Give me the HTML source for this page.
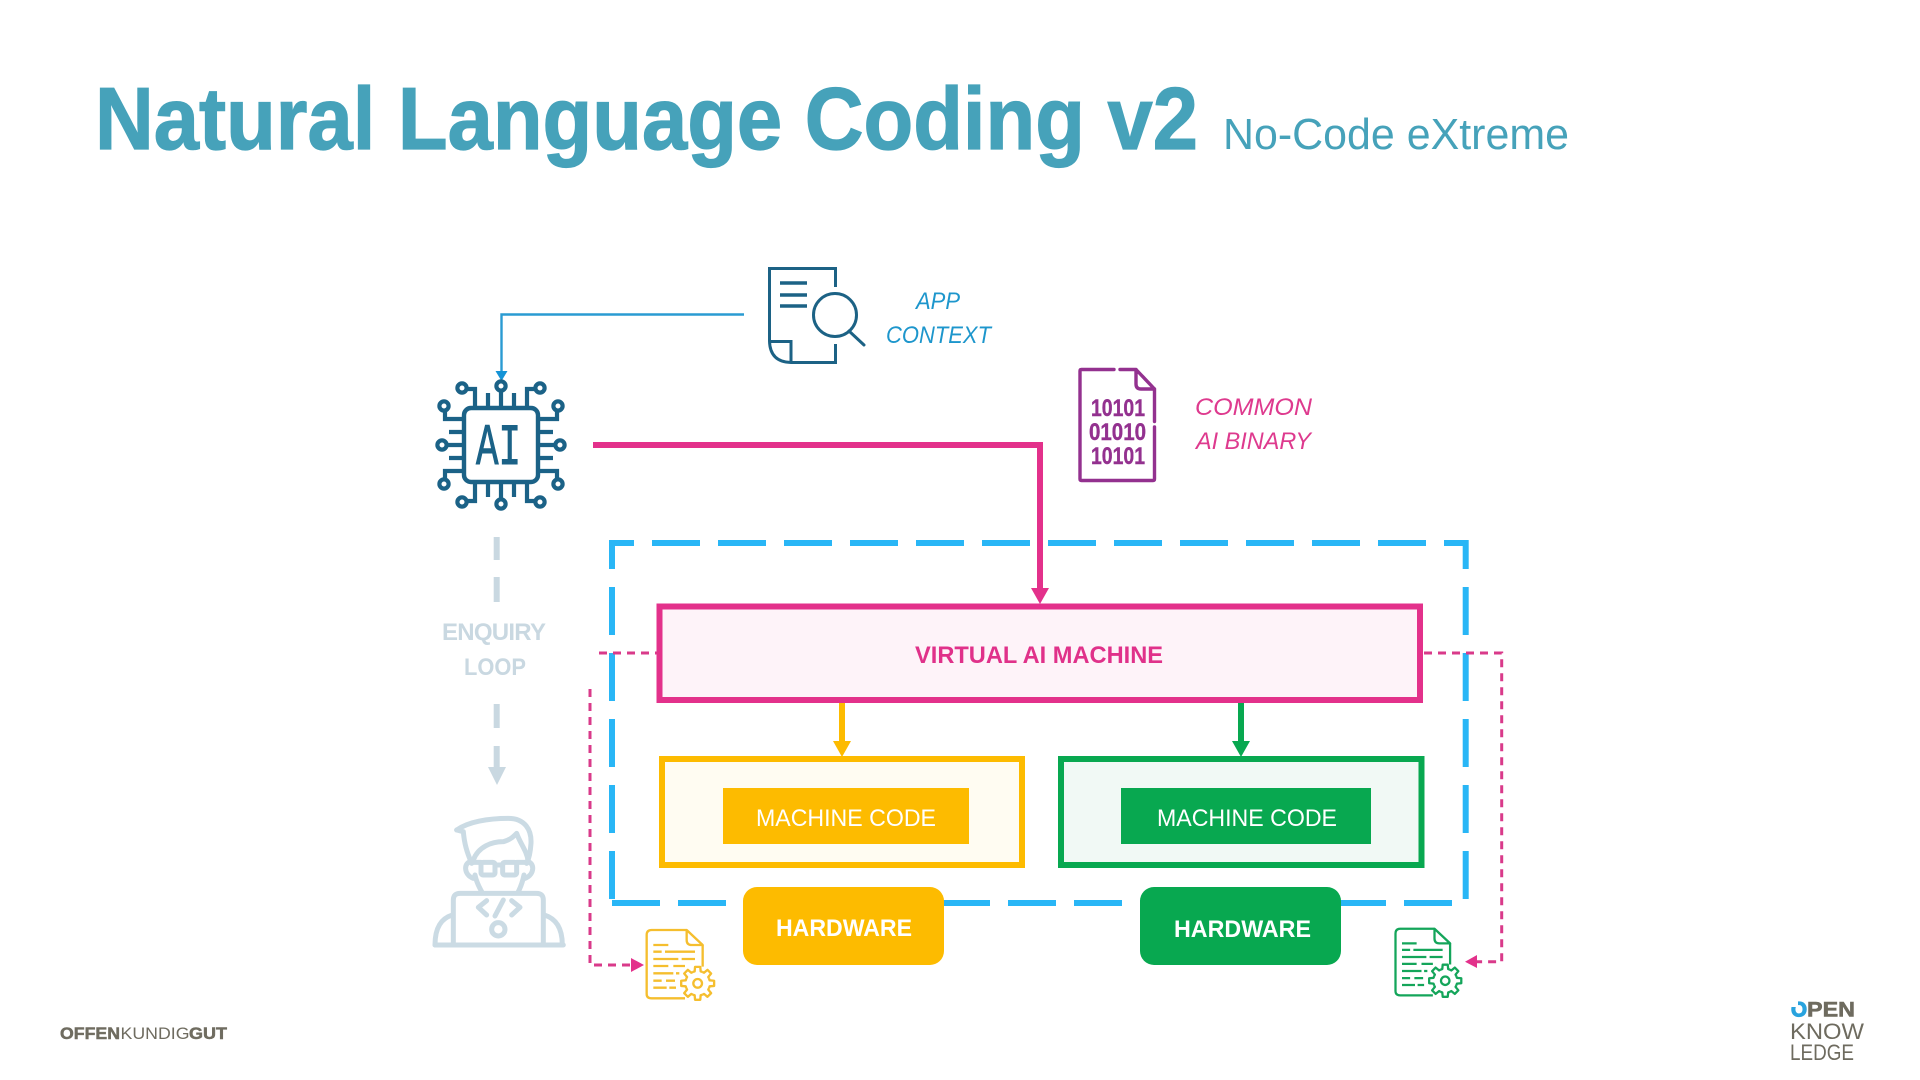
<!DOCTYPE html>
<html><head><meta charset="utf-8"><title>Natural Language Coding v2</title>
<style>html,body{margin:0;padding:0;background:#fff}svg{display:block}text{font-family:"Liberation Sans",sans-serif}</style></head>
<body>
<svg width="1920" height="1080" viewBox="0 0 1920 1080" xmlns="http://www.w3.org/2000/svg">
<defs>
<g id="pins" fill="none">
  <path d="M-13-37V-52M13-37V-52M0-37V-55M-26-37V-56H-35M26-37V-56H35"/>
  <circle cx="0" cy="-59" r="4.6"/><circle cx="-39" cy="-57" r="4.6"/><circle cx="39" cy="-57" r="4.6"/>
</g>
<g id="tooth"><polyline points="-14.2,-34.2 -9,-35.9 -7.8,-49.4 7.8,-49.4 9,-35.9 14.2,-34.2" fill="none"/></g>
<g id="doc" fill="none" stroke-width="7" stroke-linejoin="round">
  <path d="M140,30H35Q20,30 20,45V222Q20,235 35,235H135M188,75V140"/>
  <path d="M140,30L188,75H155Q140,75 140,60Z"/>
  <path d="M40,75H85M40,95H65M75,95H165M40,117H115M125,117H165M40,138H85M100,138H135M40,160H100M108,160H118M40,182H65M78,182H105M40,203H80M88,203H108"/>
  <g transform="translate(173,190)">
    <circle r="36" fill="#fff" stroke="none"/>
    <use href="#tooth"/><use href="#tooth" transform="rotate(45)"/><use href="#tooth" transform="rotate(90)"/><use href="#tooth" transform="rotate(135)"/><use href="#tooth" transform="rotate(180)"/><use href="#tooth" transform="rotate(225)"/><use href="#tooth" transform="rotate(270)"/><use href="#tooth" transform="rotate(315)"/>
    <circle r="13"/>
  </g>
</g>
</defs>

<!-- Title -->
<text x="95" y="149" font-size="88" font-weight="700" fill="#46a2ba" stroke="#46a2ba" stroke-width="1.2" textLength="1103" lengthAdjust="spacingAndGlyphs">Natural Language Coding v2</text>
<text x="1223" y="149" font-size="44" fill="#46a2ba" textLength="346" lengthAdjust="spacingAndGlyphs">No-Code eXtreme</text>

<!-- Context connector -->
<path d="M744,314.5H501.5V372" fill="none" stroke="#2a9bd2" stroke-width="2.4"/>
<polygon points="495.5,371 507.5,371 501.5,381" fill="#1493d6"/>

<!-- Doc search icon -->
<g fill="none" stroke="#1c6285" stroke-width="3">
  <path d="M835.5,287V268.5H769.5V341Q770,362 791,362.5H835.5V344"/>
  <path d="M769.5,341.5H791V362"/>
  <path d="M780,283H807M780,295H807M780,306H807" stroke-width="3.4"/>
  <circle cx="835" cy="315" r="21.5"/>
  <path d="M849,331L864,345" stroke-linecap="round"/>
</g>
<text x="916" y="309" font-size="24" font-style="italic" fill="#1d96cc" textLength="44" lengthAdjust="spacingAndGlyphs">APP</text>
<text x="886" y="343" font-size="24" font-style="italic" fill="#1d96cc" textLength="105" lengthAdjust="spacingAndGlyphs">CONTEXT</text>

<!-- AI chip -->
<g transform="translate(501,445)" stroke="#1b6287" stroke-width="4.2">
  <rect x="-37" y="-37" width="74" height="74" rx="7" fill="#fff" stroke-width="4.4"/>
  <use href="#pins"/><use href="#pins" transform="rotate(90)"/><use href="#pins" transform="rotate(180)"/><use href="#pins" transform="rotate(270)"/>
</g>
<text x="476" y="464" style="font-family:'Liberation Mono',monospace" font-size="58" fill="#1b6287" stroke="#1b6287" stroke-width="1" textLength="45" lengthAdjust="spacingAndGlyphs">AI</text>

<!-- Main magenta connector -->
<path d="M593,445H1040V590" fill="none" stroke="#e3318b" stroke-width="6"/>
<polygon points="1031,588 1049,588 1040,604" fill="#e3318b"/>

<!-- Enquiry loop -->
<g fill="none" stroke="#c9d8e1" stroke-width="6">
  <path d="M496.7,537V560M496.7,577V602M496.7,704V728M496.7,746V768"/>
</g>
<polygon points="488,767 506,767 497,785" fill="#c9d8e1"/>
<text x="442" y="640" font-size="24" font-weight="700" fill="#c9d8e1" textLength="104" lengthAdjust="spacing">ENQUIRY</text>
<text x="464" y="675" font-size="24" font-weight="700" fill="#c9d8e1" textLength="62" lengthAdjust="spacingAndGlyphs">LOOP</text>

<!-- Developer -->
<g transform="translate(425,810) scale(.3333)" fill="none" stroke="#cbdbe4" stroke-width="15" stroke-linejoin="round" stroke-linecap="round">
  <path d="M95,60C130,35 190,25 250,25C300,25 320,60 318,100C316,130 310,150 305,160"/>
  <path d="M95,60L115,65C118,100 125,125 140,160"/>
  <path d="M145,150C160,110 200,95 235,95C255,90 265,80 275,70C285,100 305,120 310,155"/>
  <rect x="168" y="157" width="42" height="38" rx="6"/><rect x="233" y="157" width="42" height="38" rx="6"/>
  <path d="M140,157H168M210,165H233M275,157H303"/>
  <path d="M140,155C115,155 115,195 145,205M305,155C330,155 330,195 300,205"/>
  <path d="M150,195C155,220 165,235 170,245M297,195C292,220 285,235 280,245"/>
  <path d="M85,405V270Q85,250 105,250H335Q355,250 355,270V405"/>
  <path d="M30,405H415"/>
  <path d="M82,315C50,325 30,350 30,405M358,315C390,325 412,350 412,405"/>
  <path d="M185,272L160,292L185,315M260,272L285,292L260,315M235,270L210,318"/>
  <circle cx="220" cy="358" r="20"/>
</g>

<!-- Common AI binary icon -->
<g fill="none" stroke="#93318f" stroke-width="3.4" stroke-linejoin="round" stroke-linecap="round">
  <path d="M1114,369.5H1081.5Q1080,369.5 1080,371V479Q1080,480.5 1081.5,480.5H1153Q1154.5,480.5 1154.5,479V427M1154.5,421.5V389M1120,369.5H1136L1154.5,389H1141Q1136,389 1136,384V369.5"/>
</g>
<g font-size="24" font-weight="700" fill="#93318f" stroke="#93318f" stroke-width=".4">
  <text x="1091" y="416" textLength="54" lengthAdjust="spacingAndGlyphs">10101</text>
  <text x="1089" y="440" textLength="57" lengthAdjust="spacingAndGlyphs">01010</text>
  <text x="1091" y="464" textLength="54" lengthAdjust="spacingAndGlyphs">10101</text>
</g>
<text x="1195" y="415" font-size="24" font-style="italic" fill="#de3a8e" textLength="117" lengthAdjust="spacingAndGlyphs">COMMON</text>
<text x="1196" y="449" font-size="24" font-style="italic" fill="#de3a8e" textLength="115" lengthAdjust="spacingAndGlyphs">AI BINARY</text>

<!-- Dashed container -->
<g fill="none" stroke="#29b6f6" stroke-width="6">
  <path d="M634,543H612V569M1444,543H1465.7V569"/>
  <path d="M652,543H1426" stroke-dasharray="48 18"/>
  <path d="M612,587V900" stroke-dasharray="48 18"/>
  <path d="M1465.7,587V900" stroke-dasharray="48 18"/>
  <path d="M612,903H1452" stroke-dasharray="48 18"/>
</g>

<!-- Pink dashed feedback -->
<g fill="none" stroke="#d93a8a" stroke-width="3" stroke-dasharray="8 6">
  <path d="M599,653H657"/>
  <path d="M1424,653H1501.7V961.7H1477"/>
  <path d="M590,689V965H632"/>
</g>
<polygon points="631,958 631,972 644,965" fill="#e3318b"/>
<polygon points="1477,955 1477,968 1465,961.7" fill="#e3318b"/>

<!-- Virtual AI Machine -->
<rect x="659.5" y="606.5" width="760.5" height="93.5" fill="#fef3f9" stroke="#e3318b" stroke-width="6"/>
<text x="915" y="663" font-size="24" font-weight="700" fill="#e0318a" textLength="248" lengthAdjust="spacingAndGlyphs">VIRTUAL AI MACHINE</text>

<!-- Yellow -->
<path d="M842,703V742" stroke="#fdbb00" stroke-width="6"/>
<polygon points="833,741 851,741 842,757" fill="#fdbb00"/>
<rect x="662" y="759" width="360" height="106" fill="#fffcf2" stroke="#fdbb00" stroke-width="6"/>
<rect x="723" y="788" width="246" height="56" fill="#fdbb00"/>
<text x="756" y="826" font-size="24" fill="#fff" textLength="180" lengthAdjust="spacingAndGlyphs">MACHINE CODE</text>
<rect x="743" y="887" width="201" height="78" rx="14" fill="#fdbb00"/>
<text x="776" y="936" font-size="24" font-weight="700" fill="#fff" textLength="136" lengthAdjust="spacingAndGlyphs">HARDWARE</text>

<!-- Green -->
<path d="M1241,703V742" stroke="#08a850" stroke-width="6"/>
<polygon points="1232,741 1250,741 1241,757" fill="#08a850"/>
<rect x="1061" y="759" width="360.500" height="106" fill="#f1f9f5" stroke="#08a850" stroke-width="6"/>
<rect x="1121" y="788" width="250" height="56" fill="#08a850"/>
<text x="1157" y="826" font-size="24" fill="#fff" textLength="180" lengthAdjust="spacingAndGlyphs">MACHINE CODE</text>
<rect x="1140" y="887" width="201" height="78" rx="14" fill="#08a850"/>
<text x="1174" y="937" font-size="24" font-weight="700" fill="#fff" textLength="137" lengthAdjust="spacingAndGlyphs">HARDWARE</text>

<!-- Doc gears -->
<use href="#doc" transform="translate(640,920) scale(.3333)" stroke="#f5be2e"/>
<use href="#doc" transform="translate(1389,919) scale(.325)" stroke="#14a55a"/>

<!-- Footer logos -->
<g fill="#6f6c60" stroke="#6f6c60" font-size="17">
  <text x="60" y="1039" font-weight="700" stroke-width=".5" textLength="60" lengthAdjust="spacingAndGlyphs">OFFEN</text>
  <text x="120.500" y="1039" stroke-width="0" textLength="69" lengthAdjust="spacingAndGlyphs">KUNDIG</text>
  <text x="189" y="1039" font-weight="700" stroke-width=".5" textLength="38" lengthAdjust="spacingAndGlyphs">GUT</text>
</g>
<text x="1791" y="1016.7" font-size="21" font-weight="700" fill="#29a3de" stroke="#29a3de" stroke-width="1.2" textLength="16" lengthAdjust="spacingAndGlyphs">O</text>
<rect x="1789" y="999" width="9" height="8" fill="#fff"/>
<text x="1807" y="1016.7" font-size="21.500" font-weight="700" fill="#6e6b5f" stroke="#6e6b5f" stroke-width=".6" textLength="48" lengthAdjust="spacingAndGlyphs">PEN</text>
<text x="1790" y="1039" font-size="22" fill="#6e6b5f" textLength="74" lengthAdjust="spacingAndGlyphs">KNOW</text>
<text x="1790" y="1060" font-size="22" fill="#6e6b5f" textLength="64" lengthAdjust="spacingAndGlyphs">LEDGE</text>
</svg>
</body></html>
